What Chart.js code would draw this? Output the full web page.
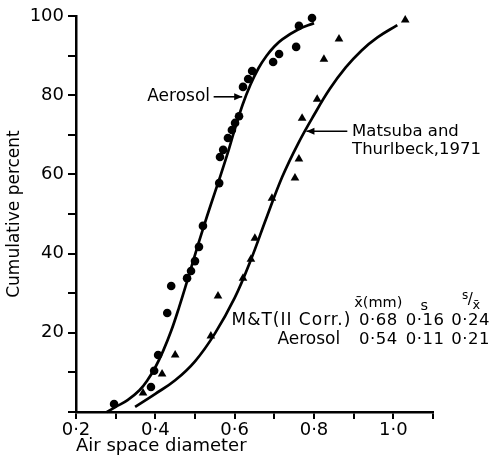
<!DOCTYPE html>
<html><head><meta charset="utf-8">
<script src="https://cdn.jsdelivr.net/npm/chart.js@4"></script>
<style>html,body{margin:0;padding:0;background:#fff}</style>
</head><body>
<canvas id="c" width="492" height="459" style="width:492px;height:459px;display:block"></canvas>
<script>
// ---- data ----
const aerosolX = [0.296,0.389,0.397,0.407,0.430,0.440,0.480,0.490,0.500,0.510,0.520,0.561,0.563,0.571,0.583,0.593,0.601,0.611,0.621,0.634,0.644,0.697,0.712,0.755,0.762,0.795];
const aerosolY = [2.0,6.3,10.4,14.4,25.0,31.8,33.8,35.6,38.1,41.7,47.0,57.8,64.4,66.2,69.2,71.2,73.0,74.7,82.1,84.1,86.1,88.4,90.4,92.2,97.5,99.5];
const mtX = [0.369,0.417,0.450,0.540,0.558,0.621,0.641,0.651,0.694,0.752,0.762,0.770,0.808,0.825,0.863,1.030];
const mtY = [4.8,9.6,14.4,19.2,29.3,33.8,38.6,43.9,54.0,59.1,63.9,74.2,79.0,89.1,94.2,99.0];
const aerosolCurveX = [0.278,0.30,0.33,0.36,0.38,0.40,0.42,0.44,0.46,0.48,0.50,0.52,0.54,0.56,0.58,0.60,0.62,0.64,0.66,0.68,0.70,0.72,0.76,0.80];
const aerosolCurveY = [0,1.3,3.0,5.5,8.0,11.3,15.5,20.5,26.5,33.0,39.7,46.2,52.4,58.4,64.6,71.3,77.6,82.7,86.8,89.9,92.3,94.1,96.6,98.2];
const mtCurveX = [0.349,0.40,0.45,0.50,0.55,0.60,0.64,0.68,0.72,0.76,0.80,0.84,0.88,0.92,0.96,1.01];
const mtCurveY = [1.3,4.6,8.0,12.8,19.8,28.8,38.2,49.0,59.4,67.8,75.0,81.6,87.0,91.3,94.6,97.7];
const xTickValues = [0.2,0.3,0.4,0.5,0.6,0.7,0.8,0.9,1.0,1.1];
const xTickText   = ['0·2','','0·4','','0·6','','0·8','','1·0',''];
const yTickValues = [0,10,20,30,40,50,60,70,80,90,100];
const yTickText   = ['','','20','','40','','60','','80','','100'];
const tableHeader = ['x̄(mm)','s'];
const tableRowNames = ['M&T(II Corr.)','Aerosol'];
const tableMean = ['0·68','0·54'];
const tableSD = ['0·16','0·11'];
const tableCV = ['0·24','0·21'];

const pts = (xs, ys) => xs.map((v, i) => ({x: v, y: ys[i]}));
const FONT = '"DejaVu Sans", sans-serif';

function arrow(ctx, x1, y, x2) { // arrow from x1 to x2 (head at x2)
  ctx.beginPath(); ctx.moveTo(x1, y); ctx.lineTo(x2, y); ctx.lineWidth = 1.6; ctx.stroke();
  const d = x2 > x1 ? -1 : 1;
  ctx.beginPath(); ctx.moveTo(x2, y); ctx.lineTo(x2 + d * 8, y - 3.5); ctx.lineTo(x2 + d * 8, y + 3.5); ctx.closePath(); ctx.fill();
}

const annotations = {
  id: 'annotations',
  afterDraw(chart) {
    const {ctx} = chart; const sx = chart.scales.x, sy = chart.scales.y;
    const px = v => sx.getPixelForValue(v), py = v => sy.getPixelForValue(v);
    ctx.save();
    ctx.fillStyle = '#000'; ctx.strokeStyle = '#000'; ctx.textBaseline = 'middle';
    // Aerosol label
    ctx.font = '17px ' + FONT; ctx.textAlign = 'right';
    ctx.fillText('Aerosol', px(0.538), py(79.6));
    arrow(ctx, px(0.547), py(79.6), px(0.619));
    // Matsuba label
    ctx.font = '16.5px ' + FONT; ctx.textAlign = 'left';
    ctx.fillText('Matsuba and', px(0.896), py(70.9));
    ctx.fillText('Thurlbeck,1971', px(0.896), py(66.3));
    arrow(ctx, px(0.884), py(70.9), px(0.781));
    // table header
    ctx.font = '14.5px ' + FONT; ctx.textAlign = 'center';
    ctx.fillText(tableHeader[0], px(0.962), py(27.5));
    ctx.fillText(tableHeader[1], px(1.078), py(26.8));
    ctx.font = '12px ' + FONT;
    ctx.fillText('s', px(1.181), py(29.4));
    ctx.font = '15px ' + FONT; ctx.fillText('/', px(1.194), py(28.2));
    ctx.font = '13px ' + FONT; ctx.fillText('x̄', px(1.209), py(26.9));
    // table rows
    const rowY = [23.0, 18.2];
    const rowRight = [0.894, 0.866];
    const rowSpacing = ['1px', '0px'];
    for (let i = 0; i < tableRowNames.length; i++) {
      ctx.font = '17px ' + FONT;
      ctx.letterSpacing = rowSpacing[i];
      ctx.textAlign = 'right'; ctx.fillText(tableRowNames[i], px(rowRight[i]), py(rowY[i]));
      ctx.font = '16.5px ' + FONT;
      ctx.letterSpacing = '0.5px';
      ctx.textAlign = 'center';
      ctx.fillText(tableMean[i], px(0.962), py(rowY[i]));
      ctx.fillText(tableSD[i], px(1.080), py(rowY[i]));
      ctx.fillText(tableCV[i], px(1.195), py(rowY[i]));
    }
    ctx.letterSpacing = '0px';
    ctx.restore();
  }
};

new Chart(document.getElementById('c'), {
  type: 'scatter',
  data: {
    datasets: [
      {data: pts(aerosolCurveX, aerosolCurveY), showLine: true, pointRadius: 0, borderColor: '#000', borderWidth: 2.7, tension: 0.4, fill: false},
      {data: pts(mtCurveX, mtCurveY), showLine: true, pointRadius: 0, borderColor: '#000', borderWidth: 2.7, tension: 0.4, fill: false},
      {data: pts(aerosolX, aerosolY), pointStyle: 'circle', pointRadius: 4.3, backgroundColor: '#000', borderColor: '#000', borderWidth: 0},
      {data: pts(mtX, mtY), pointStyle: 'triangle', pointRadius: 5, backgroundColor: '#000', borderColor: '#000', borderWidth: 0}
    ]
  },
  options: {
    responsive: false, animation: false, devicePixelRatio: 1,
    layout: {padding: {top: 16, right: 59, left: 0, bottom: 0}},
    plugins: {legend: {display: false}, tooltip: {enabled: false}},
    clip: false,
    scales: {
      x: {
        type: 'linear', min: 0.2, max: 1.1,
        afterBuildTicks: s => { s.ticks = xTickValues.map(v => ({value: v})); },
        afterFit: s => { s.height = 47; },
        ticks: {
          autoSkip: false, maxRotation: 0, padding: 1, color: '#000', font: {family: FONT, size: 18},
          callback: v => { const i = xTickValues.findIndex(t => Math.abs(t - v) < 1e-6); return i >= 0 ? xTickText[i] : ''; }
        },
        grid: {drawOnChartArea: false, drawTicks: true, tickLength: 7, color: '#000', lineWidth: 2},
        border: {display: true, color: '#000', width: 2.5},
        title: {display: true, text: 'Air space diameter', align: 'start', color: '#000', font: {family: FONT, size: 18}, padding: {top: 0, bottom: 2}}
      },
      y: {
        type: 'linear', min: 0, max: 100,
        afterBuildTicks: s => { s.ticks = yTickValues.map(v => ({value: v})); },
        afterFit: s => { s.width = 76; },
        ticks: {
          autoSkip: false, padding: 4, color: '#000', font: {family: FONT, size: 18},
          callback: v => { const i = yTickValues.indexOf(v); return i >= 0 ? yTickText[i] : ''; }
        },
        grid: {drawOnChartArea: false, drawTicks: true, tickLength: 8, color: '#000', lineWidth: 2},
        border: {display: true, color: '#000', width: 2.5},
        title: {display: true, text: 'Cumulative percent', color: '#000', font: {family: FONT, size: 17}, padding: {top: 4, bottom: 0}}
      }
    }
  },
  plugins: [annotations]
});
</script>
</body></html>
